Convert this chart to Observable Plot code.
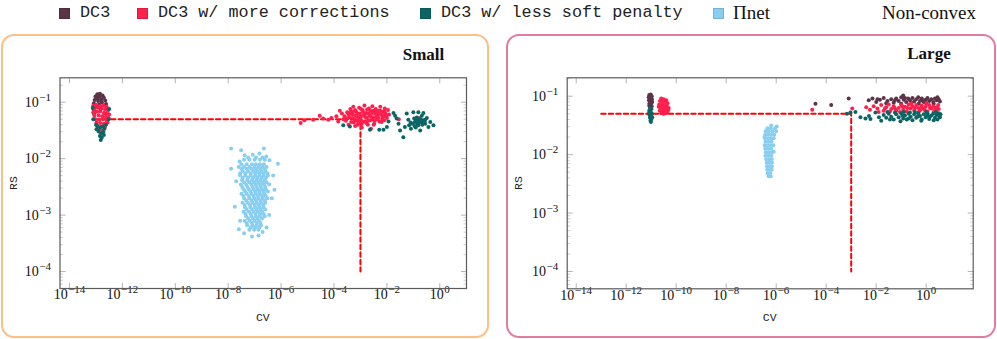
<!DOCTYPE html>
<html><head><meta charset="utf-8">
<script src="https://cdn.jsdelivr.net/npm/d3@7"></script>
<script src="https://cdn.jsdelivr.net/npm/@observablehq/plot@0.6"></script>
<style>
body{margin:0;background:#fff;}
#root{position:relative;width:997px;height:339px;overflow:hidden;font-family:"Liberation Serif",serif;color:#111;}
.abs{position:absolute;white-space:nowrap;line-height:1;}
.box{position:absolute;box-sizing:border-box;border-radius:13px;border:2px solid;}
.mono{font-family:"Liberation Mono",monospace;color:#222;}
.sw{position:absolute;width:11px;height:11px;box-sizing:border-box;}
</style></head><body><div id="root"></div>
<script>
// ---------------- data ----------------
const seriesNames = ["DC3", "DC3 w/ more corrections", "DC3 w/ less soft penalty", "Πnet"];
const seriesColors = ["#5c3447", "#ff1f4c", "#0c6565", "#88cef1"];
const panelTitles = ["Small", "Large"];
const xTickValues = [1e-14, 1e-12, 1e-10, 1e-8, 1e-6, 1e-4, 1e-2, 1];
const yTickValues = [1e-4, 1e-3, 1e-2, 1e-1];
const thresholdPath = [[1e-13, 0.05], [1e-3, 0.05], [1e-3, 1e-4]];

// points as [log10(CV), log10(RS)]
const smallDC3 = [[-12.95,-0.86],[-12.85,-0.85],[-12.75,-0.88],[-13.02,-0.9],[-12.9,-0.91],[-12.7,-0.92],[-12.8,-0.95],[-13.05,-0.96],[-12.65,-0.97],[-12.92,-0.98],[-12.78,-1.0],[-13.08,-1.02],[-12.62,-1.03],[-12.88,-1.04],[-12.72,-1.06],[-13.0,-1.08],[-12.6,-1.1],[-12.82,-1.12],[-13.06,-1.15],[-12.68,-1.2],[-12.95,-0.93],[-12.84,-0.89],[-13.1,-1.12],[-13.08,-1.2]];
const smallMore = [[-13.1,-1.06],[-12.98,-1.05],[-12.85,-1.07],[-12.72,-1.06],[-12.6,-1.08],[-13.05,-1.12],[-12.92,-1.1],[-12.8,-1.11],[-12.66,-1.13],[-12.55,-1.15],[-13.1,-1.18],[-12.96,-1.17],[-12.84,-1.16],[-12.7,-1.19],[-12.58,-1.2],[-13.06,-1.24],[-12.9,-1.23],[-12.76,-1.25],[-12.62,-1.26],[-12.52,-1.28],[-13.02,-1.3],[-12.88,-1.31],[-12.74,-1.3],[-12.6,-1.33],[-12.98,-1.36],[-12.84,-1.37],[-12.7,-1.38],[-12.56,-1.36],[-12.94,-1.42],[-12.8,-1.43],[-12.66,-1.44],[-12.86,-1.48],[-12.74,-1.5],[-13.08,-1.09],[-12.5,-1.22],
  [-5.26,-1.37],[-5.12,-1.32],[-4.79,-1.31],[-4.54,-1.24],[-4.41,-1.29],[-4.22,-1.31],[-4.1,-1.28],[-3.91,-1.25],[-3.78,-1.15],[-3.84,-1.34],[-3.7,-1.2],[-3.65,-1.3],
  [-3.6,-1.25],[-3.55,-1.33],[-3.5,-1.18],[-3.45,-1.4],[-3.42,-1.27],[-3.38,-1.12],[-3.35,-1.35],[-3.3,-1.22],[-3.27,-1.08],[-3.24,-1.3],[-3.2,-1.42],[-3.16,-1.17],[-3.12,-1.26],[-3.08,-1.36],[-3.05,-1.1],[-3.02,-1.2],[-2.98,-1.31],[-2.95,-1.45],[-2.92,-1.14],[-2.88,-1.24],[-2.85,-1.06],[-2.82,-1.34],[-2.78,-1.19],[-2.75,-1.28],[-2.72,-1.4],[-2.68,-1.11],[-2.65,-1.23],[-2.62,-1.32],[-2.58,-1.16],[-2.55,-1.07],[-2.52,-1.27],[-2.48,-1.38],[-2.45,-1.2],[-2.42,-1.12],[-2.38,-1.3],[-2.35,-1.24],[-2.32,-1.15],[-2.28,-1.34],[-2.25,-1.08],[-2.22,-1.22],[-2.18,-1.29],[-2.15,-1.17],[-2.12,-1.25],[-2.08,-1.11],[-2.05,-1.2],[-2.0,-1.28],[-1.96,-1.14],[-1.92,-1.22],[-3.0,-1.26],[-2.7,-1.2],[-2.4,-1.26],[-3.3,-1.28],[-2.6,-1.47],[-2.9,-1.17],[-3.15,-1.32],[-2.5,-1.15],[-2.2,-1.35],[-3.4,-1.2],[-3.1,-1.2],[-2.8,-1.27],[-2.55,-1.3],[-2.3,-1.2],[-2.1,-1.32],[-3.2,-1.14],[-2.95,-1.38],[-2.65,-1.14],[-0.78,-1.28],[-1.55,-1.3],
  [-3.45,-1.22],[-3.35,-1.16],[-3.25,-1.36],[-3.18,-1.24],[-3.05,-1.3],[-2.98,-1.12],[-2.9,-1.34],[-2.85,-1.22],[-2.75,-1.13],[-2.7,-1.33],[-2.62,-1.25],[-2.55,-1.19],[-2.46,-1.33],[-2.4,-1.17],[-2.33,-1.28],[-2.25,-1.15],[-2.18,-1.23],[-2.1,-1.16],[-2.02,-1.24],[-3.52,-1.29],[-3.28,-1.17],[-2.78,-1.37],[-2.5,-1.4],[-3.1,-1.4]];
const smallLess = [[-12.95,-1.42],[-12.85,-1.45],[-12.75,-1.43],[-12.68,-1.47],[-12.9,-1.52],[-12.8,-1.55],[-12.72,-1.53],[-12.85,-1.6],[-12.78,-1.63],[-12.82,-1.67],[-12.7,-1.58],[-13.0,-1.4],[-13.12,-1.1],[-12.5,-1.12],[-12.52,-1.3],[-13.1,-1.3],[-12.62,-1.4],[-12.98,-1.48],
  [-3.65,-1.41],[-3.4,-1.43],[-2.64,-1.49],[-2.29,-1.49],
  [-1.75,-1.19],[-1.63,-1.29],[-1.56,-1.38],[-2.0,-1.44],[-2.13,-1.49],[-1.94,-1.34],[-1.69,-1.24],[-1.5,-1.5],[-1.38,-1.62],[-1.25,-1.2],[-1.19,-1.31],[-1.09,-1.47],[-1.0,-1.18],[-0.94,-1.35],[-0.87,-1.27],[-0.81,-1.41],[-0.74,-1.5],[-0.68,-1.24],[-0.62,-1.32],[-0.55,-1.38],[-0.49,-1.28],[-0.43,-1.44],[-0.24,-1.41],[-0.81,-1.18],[-0.62,-1.19],[-1.04,-1.38],[-1.16,-1.41],[-0.91,-1.45],[-1.32,-1.44],[-0.7,-1.35],[-0.83,-1.31],[-0.97,-1.29],[-0.55,-1.31],[-0.36,-1.35],
  [-0.9,-1.33],[-0.78,-1.36],[-0.72,-1.3],[-0.85,-1.38],[-0.66,-1.4],[-0.95,-1.42],[-1.1,-1.36],[-0.58,-1.34]];
const smallPinet = [
  [-7.5,-2.1],[-7.3,-2.1],[-7.1,-2.1],[-6.95,-2.1],[-6.8,-2.1],[-6.65,-2.1],
  [-7.6,-2.15],[-7.4,-2.15],[-7.2,-2.15],[-7.0,-2.15],[-6.85,-2.15],[-6.7,-2.15],[-6.55,-2.15],
  [-7.45,-2.22],[-7.25,-2.22],[-7.05,-2.22],[-6.9,-2.22],[-6.75,-2.22],[-6.6,-2.22],
  [-7.55,-2.3],[-7.35,-2.3],[-7.15,-2.3],[-6.98,-2.3],[-6.82,-2.3],[-6.66,-2.3],[-6.5,-2.3],
  [-7.48,-2.38],[-7.28,-2.38],[-7.1,-2.38],[-6.93,-2.38],[-6.78,-2.38],[-6.62,-2.38],
  [-7.52,-2.46],[-7.32,-2.46],[-7.12,-2.46],[-6.96,-2.46],[-6.8,-2.46],[-6.65,-2.46],[-6.45,-2.46],
  [-7.42,-2.54],[-7.22,-2.54],[-7.04,-2.54],[-6.88,-2.54],[-6.72,-2.54],[-6.58,-2.54],
  [-7.5,-2.62],[-7.3,-2.62],[-7.12,-2.62],[-6.95,-2.62],[-6.8,-2.62],[-6.64,-2.62],
  [-7.4,-2.7],[-7.2,-2.7],[-7.02,-2.7],[-6.86,-2.7],[-6.7,-2.7],[-6.52,-2.7],
  [-7.46,-2.78],[-7.26,-2.78],[-7.08,-2.78],[-6.92,-2.78],[-6.76,-2.78],[-6.6,-2.78],
  [-7.36,-2.86],[-7.16,-2.86],[-6.98,-2.86],[-6.82,-2.86],[-6.66,-2.86],
  [-7.42,-2.94],[-7.22,-2.94],[-7.04,-2.94],[-6.88,-2.94],[-6.72,-2.94],
  [-7.32,-3.02],[-7.12,-3.02],[-6.95,-3.02],[-6.8,-3.02],[-6.62,-3.02],
  [-7.38,-3.1],[-7.18,-3.1],[-7.0,-3.1],[-6.84,-3.1],
  [-7.28,-3.18],[-7.08,-3.18],[-6.92,-3.18],[-6.76,-3.18],
  [-7.2,-3.26],[-7.02,-3.26],[-6.86,-3.26],
  [-7.5,-2.18],[-7.3,-2.18],[-7.12,-2.18],[-6.95,-2.18],[-6.78,-2.18],[-6.62,-2.18],
  [-7.55,-2.26],[-7.35,-2.26],[-7.15,-2.26],[-6.97,-2.26],[-6.82,-2.26],[-6.68,-2.26],[-6.52,-2.26],
  [-7.45,-2.34],[-7.25,-2.34],[-7.06,-2.34],[-6.9,-2.34],[-6.73,-2.34],[-6.57,-2.34],
  [-7.4,-2.42],[-7.2,-2.42],[-7.02,-2.42],[-6.86,-2.42],[-6.7,-2.42],[-6.55,-2.42],
  [-7.47,-2.5],[-7.27,-2.5],[-7.08,-2.5],[-6.92,-2.5],[-6.76,-2.5],[-6.6,-2.5],
  [-7.36,-2.58],[-7.16,-2.58],[-6.98,-2.58],[-6.82,-2.58],[-6.66,-2.58],[-6.5,-2.58],
  [-7.42,-2.66],[-7.22,-2.66],[-7.04,-2.66],[-6.88,-2.66],[-6.72,-2.66],[-6.58,-2.66],
  [-7.32,-2.74],[-7.12,-2.74],[-6.95,-2.74],[-6.78,-2.74],[-6.62,-2.74],
  [-7.38,-2.82],[-7.18,-2.82],[-7.0,-2.82],[-6.84,-2.82],[-6.68,-2.82],
  [-7.3,-2.9],[-7.1,-2.9],[-6.93,-2.9],[-6.77,-2.9],[-6.6,-2.9],
  [-7.35,-2.98],[-7.15,-2.98],[-6.97,-2.98],[-6.8,-2.98],[-6.66,-2.98],
  [-7.25,-3.06],[-7.06,-3.06],[-6.9,-3.06],[-6.72,-3.06],
  [-7.3,-3.14],[-7.1,-3.14],[-6.92,-3.14],[-6.78,-3.14],
  [-7.15,-3.22],[-6.98,-3.22],[-6.82,-3.22],
  [-7.4,-2.02],[-7.2,-2.02],[-7.0,-2.02],[-6.8,-2.02],[-6.62,-2.02],
  [-7.25,-1.98],[-6.95,-1.98],[-6.7,-1.98],
  [-7.89,-1.82],[-6.65,-1.82],[-7.51,-1.85],[-7.07,-1.93],[-7.38,-1.94],[-6.56,-1.96],[-6.82,-1.91],[-7.57,-2.05],[-6.44,-2.03],[-6.12,-2.09],[-7.89,-2.18],[-7.7,-2.4],[-6.3,-2.3],[-6.25,-2.55],[-6.35,-2.7],[-7.75,-2.85],[-7.55,-3.1],[-6.45,-3.0],[-6.55,-3.22],[-7.4,-3.32],[-7.1,-3.38],[-6.85,-3.36],[-6.7,-3.3],[-7.6,-3.25]];

const largeDC3 = [[-11.08,-0.98],[-11.02,-0.97],[-10.98,-1.0],[-11.1,-1.02],[-11.04,-1.03],[-10.97,-1.05],[-11.09,-1.07],[-11.02,-1.08],[-10.96,-1.1],[-11.07,-1.12],[-11.0,-1.13],[-11.08,-1.16],[-10.98,-1.17],[-11.04,-1.19],[-11.05,-1.0],[-11.0,-1.06],
  [-4.43,-1.13],[-3.8,-1.15],[-3.1,-1.04],
  [-2.3,-1.07],[-2.15,-1.04],[-2.0,-1.1],[-1.85,-1.06],[-1.7,-1.03],[-1.55,-1.08],[-1.4,-1.05],[-1.3,-1.11],[-1.2,-1.04],[-1.1,-1.08],[-1.0,-1.02],[-0.92,-0.99],[-0.9,-1.06],[-0.8,-1.1],[-0.72,-1.04],[-0.65,-1.07],[-0.55,-1.03],[-0.48,-1.09],[-0.4,-1.05],[-0.32,-1.02],[-0.25,-1.08],[-0.18,-1.04],[-0.1,-1.1],[-0.02,-1.06],[0.05,-1.03],[0.12,-1.08],[0.2,-1.05],[0.28,-1.1],[0.35,-1.04],[0.42,-1.07],[0.5,-1.05],[0.55,-1.09],[-1.6,-1.12],[-0.6,-1.12],[0.0,-1.12],[0.3,-1.13],[-0.3,-1.13],[-1.0,-1.13],[-1.25,-1.07],[-0.85,-1.03],[-0.15,-1.07],[0.45,-1.02],[-1.95,-1.05]];
const largeMore = [[-10.6,-1.04],[-10.5,-1.05],[-10.4,-1.07],[-10.65,-1.08],[-10.55,-1.1],[-10.45,-1.1],[-10.35,-1.12],[-10.68,-1.14],[-10.58,-1.15],[-10.48,-1.16],[-10.38,-1.17],[-10.3,-1.2],[-10.62,-1.2],[-10.52,-1.21],[-10.42,-1.22],[-10.66,-1.25],[-10.56,-1.26],[-10.46,-1.26],[-10.36,-1.27],[-10.6,-1.29],[-10.5,-1.3],[-10.4,-1.29],[-10.7,-1.18],[-10.32,-1.24],
  [-4.56,-1.23],[-2.96,-1.21],
  [-2.4,-1.19],[-2.25,-1.23],[-2.1,-1.17],[-1.95,-1.21],[-1.8,-1.15],[-1.7,-1.25],[-1.6,-1.19],[-1.5,-1.14],[-1.4,-1.22],[-1.3,-1.17],[-1.2,-1.25],[-1.1,-1.2],[-1.0,-1.15],[-0.92,-1.23],[-0.85,-1.18],[-0.78,-1.26],[-0.7,-1.14],[-0.62,-1.21],[-0.55,-1.17],[-0.48,-1.25],[-0.4,-1.15],[-0.32,-1.2],[-0.25,-1.24],[-0.18,-1.16],[-0.1,-1.22],[-0.02,-1.18],[0.05,-1.26],[0.12,-1.15],[0.2,-1.21],[0.28,-1.17],[0.35,-1.24],[0.42,-1.19],[0.48,-1.15],[0.5,-1.22],[-1.9,-1.27],[-1.05,-1.27],[-0.3,-1.27],[0.3,-1.27],[-0.6,-1.13],[0.0,-1.13],[-1.45,-1.26],[-0.95,-1.17],[-0.45,-1.2],[0.15,-1.2],[-1.65,-1.21],[-1.25,-1.21],[-0.75,-1.2],[-0.2,-1.19],[0.38,-1.21],[-0.05,-1.24]];
const largeLess = [[-11.05,-1.2],[-10.99,-1.22],[-11.08,-1.25],[-11.02,-1.27],[-10.97,-1.3],[-11.07,-1.32],[-11.01,-1.34],[-11.05,-1.37],[-10.99,-1.39],[-11.03,-1.42],[-11.01,-1.44],[-11.09,-1.29],[-10.96,-1.36],
  [-3.17,-1.3],[-3.03,-1.28],[-2.83,-1.27],[-2.63,-1.36],[-2.43,-1.38],[-2.29,-1.34],[-2.23,-1.39],[-2.03,-1.28],[-1.89,-1.36],[-1.8,-1.42],[-1.03,-1.43],
  [-1.7,-1.32],[-1.6,-1.37],[-1.5,-1.3],[-1.4,-1.35],[-1.3,-1.4],[-1.2,-1.31],[-1.1,-1.36],[-1.0,-1.29],[-0.92,-1.38],[-0.85,-1.33],[-0.78,-1.4],[-0.7,-1.3],[-0.62,-1.35],[-0.55,-1.41],[-0.48,-1.31],[-0.4,-1.37],[-0.32,-1.29],[-0.25,-1.34],[-0.18,-1.4],[-0.1,-1.31],[-0.02,-1.36],[0.05,-1.29],[0.12,-1.39],[0.2,-1.33],[0.28,-1.3],[0.35,-1.37],[0.42,-1.32],[0.5,-1.29],[0.55,-1.36],[0.57,-1.31],[-1.55,-1.27],[-0.9,-1.27],[-0.45,-1.27],[0.0,-1.27],[0.4,-1.27],[-1.25,-1.28],[-0.65,-1.28],[-0.2,-1.42],[0.3,-1.41],[-0.95,-1.33],[-0.35,-1.35],[0.15,-1.35],[0.45,-1.4],[-1.45,-1.4],[-0.7,-1.38],[0.05,-1.33],[0.52,-1.33]];
const largePinet = [
  [-6.35,-1.55],[-6.22,-1.55],[-6.05,-1.55],
  [-6.42,-1.6],[-6.3,-1.6],[-6.15,-1.6],[-6.0,-1.6],
  [-6.44,-1.66],[-6.32,-1.66],[-6.2,-1.66],[-6.08,-1.66],
  [-6.45,-1.72],[-6.33,-1.72],[-6.21,-1.72],[-6.1,-1.72],
  [-6.43,-1.78],[-6.31,-1.78],[-6.19,-1.78],
  [-6.46,-1.84],[-6.34,-1.84],[-6.22,-1.84],[-6.12,-1.84],
  [-6.44,-1.9],[-6.32,-1.9],[-6.2,-1.9],
  [-6.42,-1.96],[-6.3,-1.96],[-6.18,-1.96],
  [-6.43,-2.02],[-6.31,-2.02],[-6.2,-2.02],
  [-6.4,-2.08],[-6.28,-2.08],[-6.18,-2.08],
  [-6.38,-2.14],[-6.27,-2.14],[-6.17,-2.14],
  [-6.37,-2.2],[-6.26,-2.2],[-6.17,-2.2],
  [-6.36,-2.26],[-6.25,-2.26],[-6.18,-2.26],
  [-6.34,-2.32],[-6.24,-2.32],
  [-6.3,-2.37],[-6.22,-2.37],
  [-6.2,-1.5],[-5.98,-1.52],[-6.47,-1.7],[-6.1,-1.95]];

// ---------------- layout ----------------
const root = document.getElementById("root");
function el(tag, cls, style, text) {
  const e = document.createElement(tag);
  if (cls) e.className = cls;
  Object.assign(e.style, style);
  if (text != null) e.textContent = text;
  root.appendChild(e);
  return e;
}
el("div", "box", {left:"1px", top:"34px", width:"488px", height:"304px", borderColor:"#fcbf85"});
el("div", "box", {left:"506px", top:"34px", width:"490px", height:"304px", borderColor:"#e07d9e"});

// legend
const legendX = [59.3, 136.7, 420, 712.7];
const legendTextX = [80, 158, 441, 733];
seriesNames.forEach((name, i) => {
  const c = d3.color(seriesColors[i]);
  el("div", "sw", {left: legendX[i] + "px", top: "8px", background: seriesColors[i], border: "1px solid " + c.darker(0.4)});
  el("div", "abs" + (i < 3 ? " mono" : ""), {left: legendTextX[i] + "px", top: i < 3 ? "5px" : "3px", fontSize: i < 3 ? "16.8px" : "19px"}, name);
});
el("div", "abs", {right: "21px", top: "3px", fontSize: "19px"}, "Non-convex");

// panels
const ns = "http://www.w3.org/2000/svg";
function panel(cfg) {
  const rows = [];
  cfg.series.forEach((pts, i) => pts.forEach(([a, b]) => rows.push({cv: Math.pow(10, a), rs: Math.pow(10, b), s: i})));
  const minor = [];
  for (let e = -5; e <= 0; e++) for (let m = 2; m <= 9; m++) {
    const v = m * Math.pow(10, e);
    if (v >= cfg.yDomain[0] && v <= cfg.yDomain[1]) minor.push(v);
  }
  const fmt = d => "10^" + Math.round(Math.log10(d));
  const svg = Plot.plot({
    width: cfg.width, height: 339,
    marginLeft: cfg.ml, marginRight: cfg.mr, marginTop: cfg.mt, marginBottom: cfg.mb,
    style: {background: "none", overflow: "visible"},
    x: {type: "log", domain: cfg.xDomain},
    y: {type: "log", domain: cfg.yDomain},
    marks: [
      Plot.axisY({ticks: minor, anchor: "left", tickSize: -3.5, stroke: "#cfcfcf", fill: "none", label: null}),
      Plot.axisY({ticks: minor, anchor: "right", tickSize: -3.5, stroke: "#cfcfcf", fill: "none", label: null}),
      Plot.axisY({ticks: yTickValues, anchor: "left", tickSize: -6, stroke: "#b5b5b5", fill: "none", label: null}),
      Plot.axisY({ticks: yTickValues, anchor: "right", tickSize: -6, stroke: "#b5b5b5", fill: "none", label: null}),
      Plot.axisX({ticks: xTickValues, anchor: "bottom", tickSize: -5, stroke: "#b5b5b5", fill: "none", label: null}),
      Plot.axisX({ticks: xTickValues, anchor: "top", tickSize: -5, stroke: "#b5b5b5", fill: "none", label: null}),
      Plot.axisY({ticks: yTickValues, anchor: "left", tickSize: 0, tickPadding: 9, tickFormat: fmt, fill: "#111", label: null}),
      Plot.axisX({ticks: xTickValues, anchor: "bottom", tickSize: 0, tickPadding: 1, tickFormat: fmt, fill: "#111", label: null}),
      Plot.frame({stroke: "#5a5a5a", strokeWidth: 1.2}),
      Plot.line(thresholdPath, {x: d => d[0], y: d => d[1], stroke: "#ff0000", strokeWidth: 2, strokeDasharray: "4.5,3"}),
      ...cfg.series.map((pts, i) => Plot.dot(rows.filter(r => r.s === i), {x: "cv", y: "rs", r: 2, fill: seriesColors[i], stroke: "none"}))
    ]
  });
  svg.querySelectorAll('g[aria-label="x-axis tick label"] text, g[aria-label="y-axis tick label"] text').forEach(t => {
    const m = t.textContent.match(/^10\^(-?\d+)$/);
    if (!m) return;
    t.textContent = "";
    t.style.fontSize = "14px";
    t.style.fontFamily = "'Liberation Serif', serif";
    const a = document.createElementNS(ns, "tspan"); a.textContent = "10";
    const b = document.createElementNS(ns, "tspan"); b.textContent = m[1].replace("-", "\u2212");
    b.style.fontSize = "11px"; b.setAttribute("dy", "-6"); b.setAttribute("dx", "0.5");
    t.appendChild(a); t.appendChild(b);
  });
  const wrap = el("div", "abs", {left: cfg.left + "px", top: "0px", width: cfg.width + "px", height: "339px"});
  wrap.appendChild(svg);
  return svg;
}
panel({series: [smallDC3, smallMore, smallLess, smallPinet], left: 0, width: 497, ml: 59.5, mr: 31, mt: 77.3, mb: 51,
  xDomain: [Math.pow(10, -14.36), Math.pow(10, 1.01)], yDomain: [Math.pow(10, -4.30), Math.pow(10, -0.568)]});
panel({series: [largeDC3, largeMore, largeLess, largePinet], left: 497, width: 500, ml: 69.7, mr: 24.3, mt: 77.3, mb: 50.7,
  xDomain: [Math.pow(10, -14.36), Math.pow(10, 1.88)], yDomain: [Math.pow(10, -4.296), Math.pow(10, -0.685)]});

// axis titles and panel titles
el("div", "abs mono", {left: "262.8px", top: "312px", fontSize: "11.5px", transform: "translateX(-50%)"}, "CV");
el("div", "abs mono", {left: "769.7px", top: "312px", fontSize: "11.5px", transform: "translateX(-50%)"}, "CV");
el("div", "abs mono", {left: "14px", top: "182.6px", fontSize: "11.5px", transform: "translate(-50%,-50%) rotate(-90deg)"}, "RS");
el("div", "abs mono", {left: "519px", top: "182.8px", fontSize: "11.5px", transform: "translate(-50%,-50%) rotate(-90deg)"}, "RS");
el("div", "abs", {right: "552.7px", top: "46px", fontSize: "17px", fontWeight: "bold"}, panelTitles[0]);
el("div", "abs", {right: "46.3px", top: "45px", fontSize: "17px", fontWeight: "bold"}, panelTitles[1]);
</script>
</body></html>
